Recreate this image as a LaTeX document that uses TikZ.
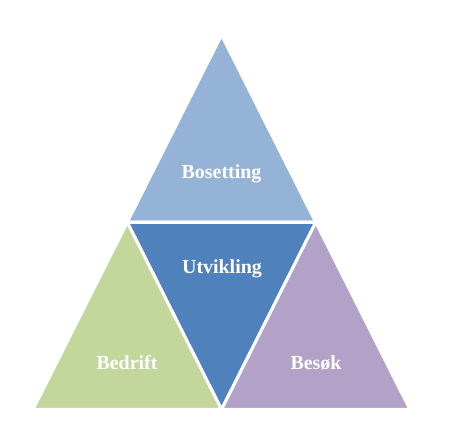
\documentclass[tikz,border=0pt]{standalone}
\usepackage{fontspec}
\setmainfont{Liberation Serif}
\usepackage{tikz}
\usetikzlibrary{positioning,calc}
\definecolor{toplightblue}{RGB}{149,179,215}
\definecolor{middleblue}{RGB}{79,129,189}
\definecolor{leftgreen}{RGB}{195,214,155}
\definecolor{rightpurple}{RGB}{178,162,199}

\begin{document}
\begin{tikzpicture}[x=0.03cm, y=-0.03cm,
    piece/.style={draw=white, line width=2.6pt, line join=round},
    label/.style={text=white, font=\fontsize{17}{20}\selectfont\bfseries}]
\useasboundingbox (0,0) rectangle (460,428);

% hjørner
\coordinate (apex) at (221.5,35);
\coordinate (bl) at (33,409.5);
\coordinate (br) at (410,409.5);
\coordinate (ml) at ($(apex)!0.5!(bl)$);
\coordinate (mr) at ($(apex)!0.5!(br)$);
\coordinate (mb) at ($(bl)!0.5!(br)$);

% trekanter
\filldraw[piece, fill=toplightblue] (apex) -- (mr) -- (ml) -- cycle;
\filldraw[piece, fill=middleblue] (ml) -- (mr) -- (mb) -- cycle;
\filldraw[piece, fill=leftgreen] (ml) -- (mb) -- (bl) -- cycle;
\filldraw[piece, fill=rightpurple] (mr) -- (br) -- (mb) -- cycle;

% tekster
\node[label] (bosetting) at (221.5,174) {Bosetting};
\node[label] (utvikling) at (222,269) {Utvikling};
\node[label] (bedrift) at (127,363) {Bedrift};
\node[label] (besok) at (316,363) {Besøk};

\end{tikzpicture}
\end{document}
